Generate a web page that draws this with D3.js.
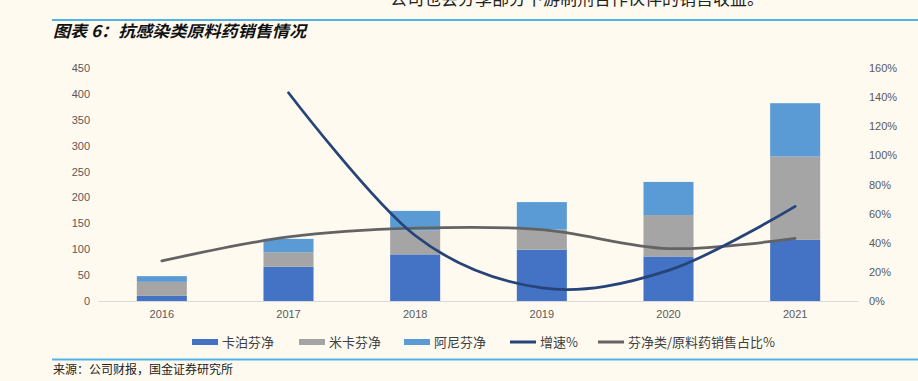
<!DOCTYPE html>
<html>
<head>
<meta charset="utf-8">
<script src="https://cdn.jsdelivr.net/npm/d3@7"></script>
<style>
html,body{margin:0;padding:0;background:#fffaf0;}
svg{display:block;}
</style>
</head>
<body>
<svg id="chart" width="918" height="381"></svg>
<script>
const years = ["2016","2017","2018","2019","2020","2021"];
const caspofungin = [10, 66, 90, 99, 86, 118];   // 卡泊芬净
const micafungin  = [27, 28, 46, 39, 80, 161];   // 米卡芬净
const anidulafungin = [11, 26, 38, 53, 64, 103]; // 阿尼芬净
const growth = [null, 1.43, 0.45, 0.09, 0.21, 0.65];      // 增速%
const share  = [0.275, 0.44, 0.50, 0.49, 0.36, 0.43];     // 芬净类/原料药销售占比%
const leftTicks = [0,50,100,150,200,250,300,350,400,450];
const rightTicks = [0,0.2,0.4,0.6,0.8,1.0,1.2,1.4,1.6];
const seriesNames = ["卡泊芬净","米卡芬净","阿尼芬净"];
const lineNames = ["增速%","芬净类/原料药销售占比%"];
const colors = ["#4472c4","#a5a5a5","#5b9bd5"];
const lineColors = ["#264478","#636363"];

const svg = d3.select("#chart");
const font = "'Noto Sans CJK SC','Noto Sans',sans-serif";
const numFont = "'Liberation Sans',Arial,sans-serif";

svg.append("rect").attr("width",918).attr("height",381).attr("fill","#fffaf0");

// top cut-off paragraph text
svg.append("text").attr("x",390).attr("y",5)
  .attr("font-family",font).attr("font-size",17).attr("fill","#222")
  .text("公司也会分享部分下游制剂合作伙伴的销售收益。");

// header/footer rules
svg.append("line").attr("x1",52).attr("x2",918).attr("y1",20).attr("y2",20)
  .attr("stroke","#4fb3e8").attr("stroke-width",2);
svg.append("line").attr("x1",52).attr("x2",918).attr("y1",359.5).attr("y2",359.5)
  .attr("stroke","#4fb3e8").attr("stroke-width",2);

svg.append("text").attr("x",53).attr("y",37)
  .attr("font-family",font).attr("font-size",16).attr("font-weight","bold")
  .attr("font-style","italic").attr("fill","#111")
  .attr("textLength",253).attr("lengthAdjust","spacingAndGlyphs")
  .text("图表 6：抗感染类原料药销售情况");

svg.append("text").attr("x",53).attr("y",374)
  .attr("font-family",font).attr("font-size",12).attr("fill","#222")
  .text("来源：公司财报，国金证券研究所");

// scales
const x = d3.scaleBand().domain(years).range([98.5,858.5]).paddingInner(0.605).paddingOuter(0.3025);
const yL = d3.scaleLinear().domain([0,450]).range([301,68]);
const yR = d3.scaleLinear().domain([0,1.6]).range([301,68]);

// axes
const axL = svg.append("g").attr("transform","translate(90,0)")
  .call(d3.axisLeft(yL).tickValues(leftTicks).tickSize(0).tickPadding(0));
const axR = svg.append("g").attr("transform","translate(869,0)")
  .call(d3.axisRight(yR).tickValues(rightTicks).tickSize(0).tickPadding(0).tickFormat(d3.format(".0%")));
const axB = svg.append("g").attr("transform","translate(0,301)")
  .call(d3.axisBottom(x).tickSize(0).tickPadding(9));
[axL,axR,axB].forEach(g=>{
  g.select(".domain").remove();
  g.selectAll("text").attr("font-family",numFont).attr("font-size",11).attr("fill","#595959");
});
svg.append("line").attr("x1",98.5).attr("x2",858.5).attr("y1",301.5).attr("y2",301.5)
  .attr("stroke","#d9d9d9").attr("stroke-width",1);

// stacked bars
const table = years.map((yr,i)=>({year:yr, a:caspofungin[i], b:micafungin[i], c:anidulafungin[i]}));
const stack = d3.stack().keys(["a","b","c"])(table);
svg.append("g").selectAll("g").data(stack).join("g")
  .attr("fill",(d,i)=>colors[i])
  .selectAll("rect").data(d=>d).join("rect")
  .attr("x",d=>x(d.data.year)).attr("width",x.bandwidth())
  .attr("y",d=>yL(d[1])).attr("height",d=>yL(d[0])-yL(d[1]));

// lines
const cx = yr => x(yr)+x.bandwidth()/2;
const lineGen = d3.line().defined(d=>d.v!=null).x(d=>cx(d.year)).y(d=>yR(d.v)).curve(d3.curveCardinal.tension(0));
svg.append("path").datum(years.map((yr,i)=>({year:yr,v:share[i]})))
  .attr("d",lineGen).attr("fill","none").attr("stroke",lineColors[1]).attr("stroke-width",2.75).attr("stroke-linecap","round");
svg.append("path").datum(years.map((yr,i)=>({year:yr,v:growth[i]})).filter(d=>d.v!=null))
  .attr("d",lineGen).attr("fill","none").attr("stroke",lineColors[0]).attr("stroke-width",2.75).attr("stroke-linecap","round");

// legend
const legendItems = [
  {name:seriesNames[0], type:"rect", color:colors[0], x:192},
  {name:seriesNames[1], type:"rect", color:colors[1], x:299},
  {name:seriesNames[2], type:"rect", color:colors[2], x:404},
  {name:lineNames[0], type:"line", color:lineColors[0], x:510},
  {name:lineNames[1], type:"line", color:lineColors[1], x:598}
];
const lg = svg.append("g");
legendItems.forEach(it=>{
  if(it.type==="rect"){
    lg.append("rect").attr("x",it.x).attr("y",339).attr("width",26).attr("height",6).attr("fill",it.color);
  } else {
    lg.append("line").attr("x1",it.x).attr("x2",it.x+26).attr("y1",342).attr("y2",342)
      .attr("stroke",it.color).attr("stroke-width",3);
  }
  lg.append("text").attr("x",it.x+30).attr("y",346.5)
    .attr("font-family",font).attr("font-size",13).attr("fill","#404040").text(it.name);
});
</script>
</body>
</html>
